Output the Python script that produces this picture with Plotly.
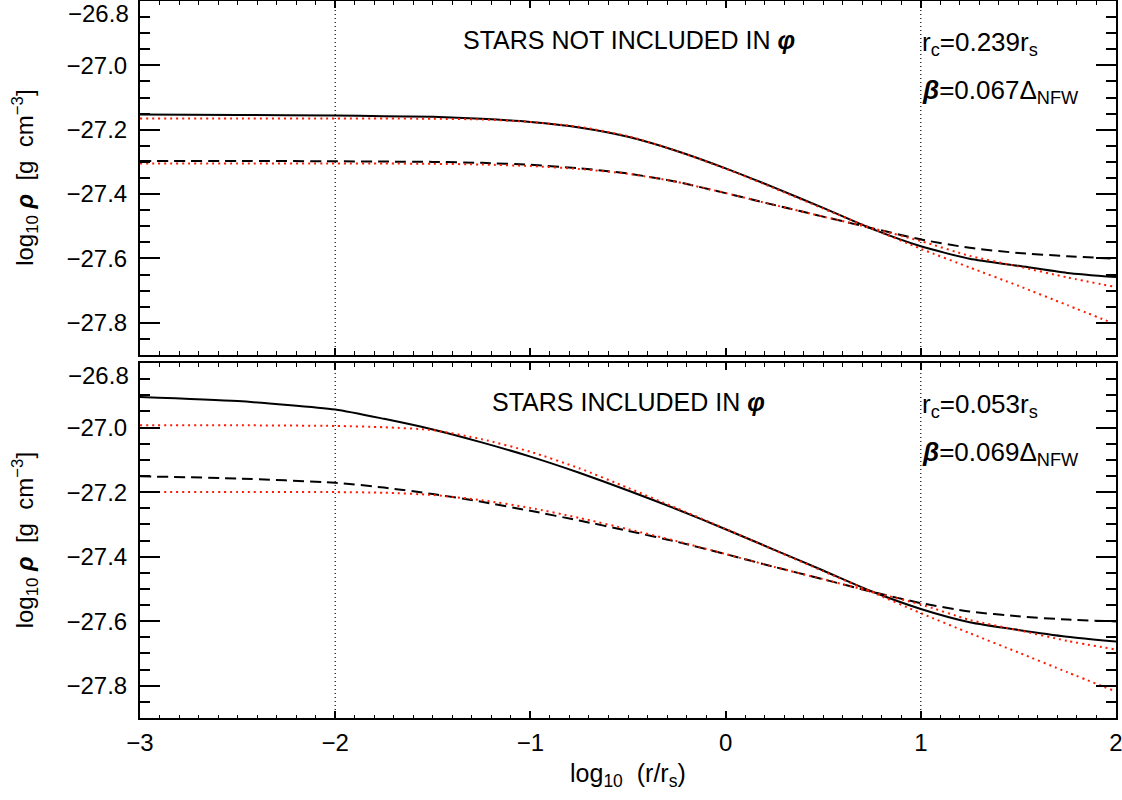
import plotly.graph_objects as go

# ---------------- data ----------------
x_grid = [-3.0, -2.5, -2.0, -1.75, -1.5, -1.25, -1.0, -0.75, -0.5, -0.25,
          0.0, 0.25, 0.5, 0.75, 1.0, 1.25, 1.5, 1.75, 2.0]

# top panel: stars not included in phi
top_solid = [-27.153, -27.154, -27.156, -27.158, -27.160, -27.166, -27.176, -27.193, -27.222, -27.266,
             -27.320, -27.380, -27.443, -27.508, -27.562, -27.601, -27.623, -27.645, -27.658]
top_dashed = [-27.297, -27.297, -27.298, -27.299, -27.300, -27.303, -27.309, -27.320, -27.336, -27.362,
              -27.397, -27.434, -27.470, -27.506, -27.541, -27.567, -27.583, -27.593, -27.601]
top_fit_solid = [-27.165, -27.165, -27.165, -27.165, -27.166, -27.168, -27.176, -27.191, -27.220, -27.266,
                 -27.321, -27.382, -27.445, -27.507, -27.570, -27.628, -27.685, -27.745, -27.805]
top_fit_dashed = [-27.305, -27.305, -27.305, -27.305, -27.306, -27.308, -27.313, -27.322, -27.337, -27.362,
                  -27.397, -27.434, -27.470, -27.506, -27.546, -27.592, -27.625, -27.659, -27.689]

# bottom panel: stars included in phi
bot_solid = [-26.905, -26.918, -26.944, -26.973, -27.006, -27.046, -27.090, -27.140, -27.195, -27.253,
             -27.315, -27.379, -27.443, -27.508, -27.562, -27.603, -27.627, -27.648, -27.663]
bot_dashed = [-27.151, -27.158, -27.171, -27.186, -27.206, -27.230, -27.258, -27.288, -27.320, -27.354,
              -27.392, -27.432, -27.470, -27.509, -27.544, -27.570, -27.585, -27.595, -27.601]
bot_fit_solid = [-26.993, -26.993, -26.995, -26.999, -27.008, -27.036, -27.075, -27.126, -27.187, -27.250,
                 -27.314, -27.380, -27.445, -27.510, -27.575, -27.637, -27.697, -27.758, -27.818]
bot_fit_dashed = [-27.200, -27.200, -27.200, -27.202, -27.209, -27.225, -27.249, -27.280, -27.315, -27.352,
                  -27.392, -27.432, -27.470, -27.509, -27.548, -27.596, -27.628, -27.661, -27.688]

panel_titles = ["STARS NOT INCLUDED IN <b><i>φ</i></b>", "STARS INCLUDED IN <b><i>φ</i></b>"]
rc_labels = ["r<sub>c</sub>=0.239r<sub>s</sub>", "r<sub>c</sub>=0.053r<sub>s</sub>"]
beta_labels = ["<b><i>β</i></b>=0.067Δ<sub>NFW</sub>", "<b><i>β</i></b>=0.069Δ<sub>NFW</sub>"]
y_title = "log<sub>10</sub> <b><i>ρ</i></b>  [g  cm<sup>−3</sup>]"
x_title = "log<sub>10</sub>  (r/r<sub>s</sub>)"
y_tickvals = [-27.8, -27.6, -27.4, -27.2, -27.0, -26.8]
y_ticktext = ["−27.8", "−27.6", "−27.4", "−27.2", "−27.0", ""]
y_top_label = "−26.8"   # drawn just below the panel's top edge, as in the original
ref_lines = [-2, 1]
x_range = [-3, 2]
y_range = [-27.9, -26.8]

FONT = "Liberation Sans"
FS = 24

fig = go.Figure()

panels = [
    ("x", "y", top_solid, top_dashed, top_fit_solid, top_fit_dashed),
    ("x2", "y2", bot_solid, bot_dashed, bot_fit_solid, bot_fit_dashed),
]
RED = "#ff1a00"
for xa, ya, s, d, fs, fd in panels:
    fig.add_trace(go.Scatter(x=x_grid, y=s, xaxis=xa, yaxis=ya, mode="lines",
                             line=dict(color="black", width=2, shape="spline", smoothing=0.6),
                             showlegend=False))
    fig.add_trace(go.Scatter(x=x_grid, y=d, xaxis=xa, yaxis=ya, mode="lines",
                             line=dict(color="black", width=2, dash="11px,6px", shape="spline", smoothing=0.6),
                             showlegend=False))
    fig.add_trace(go.Scatter(x=x_grid, y=fs, xaxis=xa, yaxis=ya, mode="lines",
                             line=dict(color=RED, width=2, dash="2px,4px", shape="spline", smoothing=0.6),
                             showlegend=False))
    fig.add_trace(go.Scatter(x=x_grid, y=fd, xaxis=xa, yaxis=ya, mode="lines",
                             line=dict(color=RED, width=2, dash="2px,4px", shape="spline", smoothing=0.6),
                             showlegend=False))
    for xv in ref_lines:
        fig.add_shape(type="line", xref=xa, yref=ya + " domain", x0=xv, x1=xv, y0=0, y1=1,
                      line=dict(color="black", width=1.2, dash="1px,3px"))

common_x = dict(range=x_range, showline=True, linewidth=2, linecolor="black", mirror="ticks",
                ticks="inside", ticklen=7, tickwidth=1.5, tickcolor="black", dtick=1,
                showgrid=False, zeroline=False, automargin=False, ticklabeloverflow="allow",
                minor=dict(ticks="inside", ticklen=3.5, tickwidth=1, tickcolor="black", dtick=0.1),
                tickfont=dict(family=FONT, size=FS, color="black"), ticklabelstandoff=2)
common_y = dict(range=y_range, showline=True, linewidth=2, linecolor="black", mirror="ticks",
                ticks="inside", ticklen=20, tickwidth=2, tickcolor="black",
                tickvals=y_tickvals, ticktext=y_ticktext,
                showgrid=False, zeroline=False, automargin=False, ticklabeloverflow="allow",
                minor=dict(ticks="inside", ticklen=10, tickwidth=1.5, tickcolor="black", dtick=0.05),
                tickfont=dict(family=FONT, size=FS, color="black"), ticklabelstandoff=6)

top_dom = [0.5063, 1.0]
bot_dom = [0.0, 0.4951]

fig.update_layout(
    width=1122, height=800,
    margin=dict(l=140, r=6, t=1, b=82, autoexpand=False),
    paper_bgcolor="white", plot_bgcolor="white",
    font=dict(family=FONT, size=FS, color="black"),
    xaxis=dict(common_x, domain=[0, 1], anchor="y", showticklabels=False, matches="x2"),
    yaxis=dict(common_y, domain=top_dom, anchor="x"),
    xaxis2=dict(common_x, domain=[0, 1], anchor="y2"),
    yaxis2=dict(common_y, domain=bot_dom, anchor="x2"),
)

ann = []
for i, ya in enumerate(["y", "y2"]):
    xd = "x domain" if i == 0 else "x2 domain"
    ann.append(dict(text=panel_titles[i], xref=xd, yref=ya + " domain",
                    x=0.501, y=0.89, xanchor="center", yanchor="middle", showarrow=False,
                    font=dict(family=FONT, size=25)))
    ann.append(dict(text=rc_labels[i], xref=xd, yref=ya + " domain",
                    x=0.799, y=0.88, xanchor="left", yanchor="middle", showarrow=False,
                    font=dict(family=FONT, size=26)))
    ann.append(dict(text=beta_labels[i], xref=xd, yref=ya + " domain",
                    x=0.799, y=0.745, xanchor="left", yanchor="middle", showarrow=False,
                    font=dict(family=FONT, size=26)))
    ann.append(dict(text=y_title, xref="paper", yref=ya + " domain",
                    x=-0.118, y=0.5, xanchor="center", yanchor="middle", textangle=-90, showarrow=False,
                    font=dict(family=FONT, size=FS)))
    ann.append(dict(text=y_top_label, xref="paper", yref=ya + " domain",
                    x=-0.0092, y=0.964, xanchor="right", yanchor="middle", showarrow=False,
                    font=dict(family=FONT, size=FS)))
ann.append(dict(text=x_title, xref="paper", yref="paper",
                x=0.5, y=-0.08, xanchor="center", yanchor="middle", showarrow=False,
                font=dict(family=FONT, size=25)))
fig.update_layout(annotations=ann)

fig.write_html("out.html", config={"displayModeBar": False},
               post_script="document.body.style.margin='0';")
